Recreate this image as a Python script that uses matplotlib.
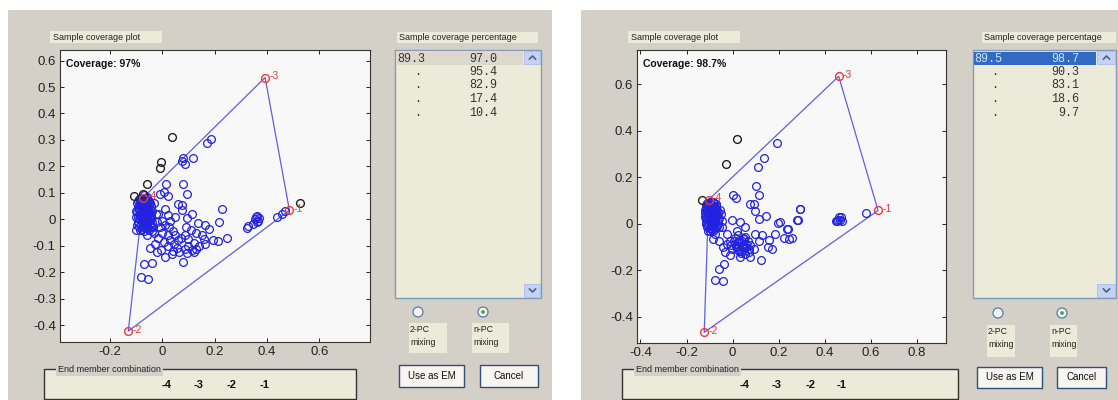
import matplotlib
matplotlib.use("Agg")
import matplotlib.pyplot as plt
from matplotlib.patches import Rectangle, Circle

W, H = 1118, 400

# ---------------- data : left window ----------------
left_blue_x = [0.170, 0.186, 0.080, 0.087, 0.119, 0.075, 0.014, 0.078, 0.093, -0.009, 0.023, 0.005,
               0.061, 0.074, 0.074, 0.227, 0.112, 0.093, 0.138, 0.163, 0.180, 0.218, 0.246, 0.214,
               0.195, 0.159, 0.163, 0.129, 0.112, 0.087, 0.078, 0.055, 0.036, 0.010, -0.022, -0.028,
               -0.047, -0.060, -0.040, -0.070, -0.041, -0.083, -0.054,
               0.322, 0.354, 0.361, 0.367, 0.346, 0.358, 0.370, 0.363, 0.329, 0.437, 0.457, 0.469,
               0.000, 0.010, 0.025, 0.040, 0.050, 0.020, 0.000, -0.010, 0.030, 0.045, 0.060, 0.070,
               0.085, 0.100, 0.100, 0.120, 0.140, 0.150, 0.130, 0.110, 0.090, 0.020, 0.005, -0.015,
               0.040, 0.065, 0.095, 0.120, -0.005, 0.030, 0.050, 0.010, -0.015, -0.020, 0.020,
               -0.095, -0.090, -0.085, -0.090, -0.095, -0.085, -0.080, -0.075, -0.070, -0.075, -0.070,
               -0.075, -0.065, -0.060, -0.055, -0.060, -0.055, -0.060, -0.050, -0.050, -0.045, -0.040,
               -0.045, -0.040, -0.035, -0.080, -0.068, -0.058, -0.082, -0.066, -0.052, -0.078, -0.062,
               -0.048, -0.088, -0.070, -0.100, -0.100, -0.092, -0.100, -0.070, -0.030, -0.025, -0.030,
               -0.065, -0.058, -0.073, -0.083, -0.062, -0.048,
               -0.092, -0.084, -0.076, -0.068, -0.060, -0.052, -0.094, -0.086, -0.078, -0.070, -0.062,
               -0.054, -0.046, -0.096, -0.088, -0.080, -0.072, -0.064, -0.056, -0.044, -0.094, -0.086,
               -0.078, -0.070, -0.064, -0.052, -0.042, -0.092, -0.082, -0.074, -0.066, -0.058, -0.050,
               -0.088, -0.078, -0.068, -0.058, -0.044, -0.080, -0.060]
left_blue_y = [0.290, 0.305, 0.233, 0.208, 0.233, 0.222, 0.132, 0.135, 0.097, 0.097, 0.088, 0.105,
               0.059, 0.054, 0.034, 0.040, 0.019, 0.004, -0.013, -0.021, -0.038, -0.009, -0.072, -0.084,
               -0.079, -0.076, -0.092, -0.113, -0.117, -0.113, -0.160, -0.107, -0.130, -0.142, -0.122, -0.095,
               -0.107, -0.059, -0.044, -0.170, -0.164, -0.218, -0.227,
               -0.032, 0.000, 0.013, -0.006, -0.016, 0.008, 0.005, -0.012, -0.025, 0.009, 0.021, 0.031,
               -0.005, -0.020, -0.030, -0.045, -0.060, -0.060, -0.050, -0.030, -0.080, -0.095, -0.080, -0.070,
               -0.060, -0.075, -0.100, -0.090, -0.100, -0.060, -0.050, -0.040, -0.030, -0.100, -0.085, -0.070,
               -0.120, -0.125, -0.128, -0.125, -0.115, -0.005, 0.010, 0.040, 0.020, -0.010, 0.015,
               0.060, 0.040, 0.020, 0.000, -0.020, -0.040, 0.070, 0.050, 0.030, 0.010, -0.010,
               -0.030, 0.080, 0.060, 0.040, 0.020, 0.000, -0.020, -0.040, 0.070, 0.050, 0.030,
               0.010, -0.010, -0.030, 0.055, 0.045, 0.032, 0.028, 0.012, 0.022, -0.005, -0.005,
               -0.020, 0.075, 0.090, 0.030, 0.010, -0.010, -0.040, -0.045, 0.060, 0.020, -0.050,
               0.065, 0.075, 0.020, 0.045, 0.052, 0.062,
               0.068, 0.064, 0.066, 0.070, 0.068, 0.058, 0.048, 0.052, 0.040, 0.054, 0.042,
               0.046, 0.040, 0.026, 0.034, 0.018, 0.036, 0.024, 0.030, 0.018, 0.008, 0.012,
               0.002, 0.016, 0.004, 0.008, 0.002, -0.012, -0.018, -0.014, -0.022, -0.012, -0.006,
               -0.030, -0.036, -0.030, -0.034, -0.028, 0.082, 0.086]
left_black_x = [0.036, -0.005, -0.009, -0.060, -0.107, -0.075, 0.526]
left_black_y = [0.311, 0.217, 0.195, 0.135, 0.088, 0.097, 0.061]
left_em_x = [0.486, -0.130, 0.393, -0.073]
left_em_y = [0.034, -0.423, 0.536, 0.082]
left_coverage = "Coverage: 97%"
left_first = "89.3"
left_pct = ["97.0", "95.4", "82.9", "17.4", "10.4"]

# ---------------- data : right window ----------------
right_blue_x = [0.193, 0.138, 0.109, 0.103, 0.117, 0.004, 0.016, 0.074, 0.091, 0.096, 0.117, 0.145,
                0.196, 0.207, 0.239, 0.283, 0.294, 0.258, 0.222, 0.186, 0.159, 0.128, 0.154, 0.123,
                0.077, 0.033, 0.026, -0.013, -0.043, -0.036, -0.061, -0.075, -0.042, 0.048, 0.077, 0.171,
                -0.003, 0.033, 0.055, 0.019, -0.025, -0.046, -0.061, -0.010, 0.012, 0.041, 0.055, 0.099,
                0.113, 0.091, 0.070, 0.055, -0.003, -0.032, -0.025, -0.075, -0.083, -0.097,
                0.460, 0.468, 0.455, 0.472, 0.462, 0.450, 0.475, 0.580, 0.291, 0.280, 0.236, 0.243,
                0.030, 0.040, 0.050, 0.035, 0.020, 0.045, 0.060, 0.025, 0.010, -0.005,
                -0.115, -0.110, -0.105, -0.110, -0.115, -0.100, -0.095, -0.090, -0.095, -0.090, -0.095,
                -0.085, -0.080, -0.075, -0.080, -0.075, -0.080, -0.070, -0.070, -0.065, -0.060, -0.065,
                -0.060, -0.055, -0.100, -0.088, -0.078, -0.102, -0.086, -0.072, -0.098, -0.082,
                -0.068, -0.108, -0.090, -0.118, -0.120, -0.112, -0.105, -0.085, -0.050, -0.045,
                -0.112, -0.104, -0.096, -0.088, -0.080, -0.072, -0.116, -0.108, -0.100, -0.092, -0.084,
                -0.076, -0.066, -0.118, -0.110, -0.102, -0.094, -0.086, -0.078, -0.068, -0.116, -0.108,
                -0.100, -0.092, -0.084, -0.076, -0.064, -0.114, -0.104, -0.096, -0.088, -0.078, -0.068,
                -0.110, -0.100, -0.090, -0.080,
                0.015, 0.028, 0.045, 0.058, 0.035, 0.065, 0.005, 0.020, 0.050, 0.070]
right_blue_y = [0.347, 0.284, 0.244, 0.162, 0.125, 0.125, 0.112, 0.083, 0.086, 0.054, 0.021, 0.032,
                0.003, 0.007, -0.021, 0.014, 0.064, -0.060, -0.060, -0.043, -0.069, -0.050, -0.100, -0.155,
                -0.143, -0.143, -0.115, -0.136, -0.100, -0.172, -0.193, -0.241, -0.244, -0.100, -0.093, -0.107,
                0.014, 0.007, -0.014, -0.029, -0.043, -0.014, -0.072, -0.072, -0.086, -0.072, -0.057, -0.043,
                -0.072, -0.107, -0.122, -0.129, -0.107, -0.122, -0.086, -0.043, -0.064, -0.029,
                0.017, 0.017, 0.012, 0.028, 0.030, 0.010, 0.012, 0.047, 0.064, 0.017, -0.021, -0.064,
                -0.080, -0.095, -0.110, -0.115, -0.100, -0.060, -0.085, -0.050, -0.060, -0.090,
                0.080, 0.060, 0.040, 0.020, 0.000, 0.090, 0.070, 0.050, 0.030, 0.010, -0.010,
                0.095, 0.075, 0.055, 0.035, 0.015, -0.005, 0.085, 0.065, 0.045, 0.025, 0.005,
                -0.015, 0.060, 0.065, 0.055, 0.042, 0.038, 0.022, 0.032, 0.012, 0.008,
                -0.008, 0.050, -0.025, 0.030, 0.060, -0.005, -0.030, -0.030, 0.040, 0.010,
                0.088, 0.082, 0.092, 0.080, 0.088, 0.078, 0.068, 0.072, 0.062, 0.068, 0.058,
                0.066, 0.058, 0.046, 0.052, 0.040, 0.048, 0.036, 0.044, 0.036, 0.026, 0.030,
                0.018, 0.026, 0.014, 0.022, 0.016, 0.006, 0.000, 0.006, -0.004, 0.002, -0.006,
                -0.016, -0.020, -0.024, -0.018,
                -0.095, -0.070, -0.085, -0.100, -0.125, -0.075, -0.075, -0.110, -0.065, -0.110]
right_black_x = [0.019, -0.028, -0.133]
right_black_y = [0.365, 0.258, 0.100]
right_em_x = [0.632, -0.123, 0.461, -0.104]
right_em_y = [0.057, -0.466, 0.633, 0.103]
right_coverage = "Coverage: 98.7%"
right_first = "89.5"
right_pct = ["98.7", "90.3", "83.1", "18.6", "9.7"]

em_labels = ["-1", "-2", "-3", "-4"]
hull_order = [3, 2, 0, 1, 3]
combination = ["-4", "-3", "-2", "-1"]

# ---------------- styling ----------------
plt.rcParams['font.family'] = ['Liberation Sans', 'DejaVu Sans']
GRAY = '#d4d0c8'
BEIGE = '#ecead8'
BLUE = '#2222e0'
RED = '#e83c3c'
LINE = '#5f5fe0'

fig = plt.figure(figsize=(W / 100, H / 100), dpi=100)
fig.patch.set_facecolor('white')
bg = fig.add_axes([0, 0, 1, 1], zorder=0)
bg.set_xlim(0, W)
bg.set_ylim(H, 0)
bg.axis('off')


def rect(x0, y0, x1, y1, fc, ec='none', lw=0.8, z=1):
    bg.add_patch(Rectangle((x0, y0), x1 - x0, y1 - y0, facecolor=fc, edgecolor=ec, lw=lw, zorder=z))


def px_axes(x0, y0, x1, y1):
    return fig.add_axes([x0 / W, 1 - y1 / H, (x1 - x0) / W, (y1 - y0) / H], zorder=2)


def panel(L):
    rect(*L['panel'], GRAY)
    rect(*L['ptitle'], BEIGE)
    bg.text(L['ptitle'][0] + 3, (L['ptitle'][1] + L['ptitle'][3]) / 2, 'Sample coverage plot',
            fontsize=6.5, va='center', ha='left', color='#222222', zorder=3)
    rect(*L['ltitle'], BEIGE)
    bg.text(L['ltitle'][0] + 2, (L['ltitle'][1] + L['ltitle'][3]) / 2, 'Sample coverage percentage',
            fontsize=6.5, va='center', ha='left', color='#222222', zorder=3)
    x0, y0, x1, y1 = L['list']
    rect(x0, y0, x1, y1, BEIGE, ec='#7f9db9', lw=1.0, z=2)
    sx = L['scroll']
    rect(sx, y0 + 1, x1 - 1, y0 + 14, '#c3d3f5', ec='#a8bce8', lw=0.6, z=3)
    rect(sx, y1 - 14, x1 - 1, y1 - 1, '#c3d3f5', ec='#a8bce8', lw=0.6, z=3)
    cx = (sx + x1) / 2
    bg.plot([cx - 3, cx, cx + 3], [y0 + 9, y0 + 6, y0 + 9], color='#4d6185', lw=1.2, zorder=4)
    bg.plot([cx - 3, cx, cx + 3], [y1 - 9, y1 - 6, y1 - 9], color='#4d6185', lw=1.2, zorder=4)
    rect(x0 + 1, y0 + 2, sx - 1, y0 + 15, L['selc'], z=3)
    rows_y = [y0 + 8.5 + 13.5 * i for i in range(len(L['pct']))]
    for i, (yy, val) in enumerate(zip(rows_y, L['pct'])):
        col = L['seltext'] if i == 0 else '#333333'
        first = L['first'] if i == 0 else '.'
        bx = L['c1'] if i == 0 else L['cdot']
        bg.text(bx, yy, first, family='Liberation Mono', fontsize=8.5, va='center', ha='left',
                color=col, zorder=4)
        bg.text(L['c2'], yy, val, family='Liberation Mono', fontsize=8.5, va='center', ha='right',
                color=col, zorder=4)
    for j, (rx, ry) in enumerate(L['radio']):
        bg.add_patch(Circle((rx, ry), 5, facecolor='#f4f4f4', edgecolor='#4a6ea8', lw=0.8, zorder=3))
        if j == 1:
            bg.add_patch(Circle((rx, ry), 1.8, facecolor='#3aa23a', edgecolor='none', zorder=4))
    for (bx0, by0, bx1, by1), t in zip(L['rlab'], ['2-PC\nmixing', 'n-PC\nmixing']):
        rect(bx0, by0, bx1, by1, BEIGE)
        bg.text(bx0 + 1, by0 + 2, t, fontsize=6.3, va='top', ha='left', color='#222222',
                linespacing=1.6, zorder=3)
    for (bx0, by0, bx1, by1), t in zip(L['buttons'], ['Use as EM', 'Cancel']):
        rect(bx0, by0, bx1, by1, '#f6f5f0', ec='#2f4f7f', lw=1.0, z=3)
        bg.text((bx0 + bx1) / 2, (by0 + by1) / 2, t, fontsize=7, va='center', ha='center',
                color='#111111', zorder=4)
    fx0, fy0, fx1, fy1 = L['frame']
    rect(fx0, fy0, fx1, fy1, BEIGE, ec='#333333', lw=1.0, z=2)
    bg.text(fx0 + 14, fy0, 'End member combination', fontsize=6.5, va='center', ha='left',
            color='#222222', zorder=4,
            bbox=dict(facecolor=GRAY, edgecolor='none', pad=1.5))
    for xx, t in zip(L['combx'], combination):
        bg.text(xx, 385, t, fontsize=8, va='center', ha='center', color='#111111',
                fontweight='bold', zorder=4)


def plot(L, bx, by, kx, ky, ex, ey, cov, xlim, ylim, xt, yt):
    ax = px_axes(*L['axes'])
    ax.set_facecolor('#f8f8f8')
    hx = [ex[i] for i in hull_order]
    hy = [ey[i] for i in hull_order]
    ax.plot(hx, hy, color=LINE, lw=0.9, zorder=2)
    ax.plot(bx, by, 'o', mfc='none', mec=BLUE, ms=5.6, mew=0.9, zorder=3)
    ax.plot(kx, ky, 'o', mfc='none', mec='#222222', ms=5.6, mew=1.0, zorder=3)
    ax.plot(ex, ey, 'o', mfc='none', mec=RED, ms=5.6, mew=1.0, zorder=4)
    for x, y, t in zip(ex, ey, em_labels):
        ax.annotate(t, (x, y), xytext=(3, 1), textcoords='offset points', color=RED,
                    fontsize=7.5, va='center', ha='left', zorder=5)
    ax.text(0.02, 0.97, cov, transform=ax.transAxes, fontsize=7.5, fontweight='bold',
            va='top', ha='left', color='#111111')
    ax.set_xlim(*xlim)
    ax.set_ylim(*ylim)
    ax.set_xticks(xt)
    ax.set_yticks(yt)
    ax.set_xticklabels(['0' if v == 0 else f'{v:g}' for v in xt])
    ax.set_yticklabels(['0' if v == 0 else f'{v:g}' for v in yt])
    ax.tick_params(direction='in', top=True, right=True, labelsize=9.5, length=3,
                   width=0.7, colors='#222222', pad=3)
    for s in ax.spines.values():
        s.set_color('#333333')
        s.set_linewidth(0.8)


LEFT = dict(panel=(8, 10, 552, 400), ptitle=(50, 31, 162, 43), axes=(60, 50, 370, 342),
            ltitle=(397, 32, 538, 43), list=(395, 50, 541, 298), scroll=524,
            selc='#dcd9cc', seltext='#333333', first=left_first, pct=left_pct,
            c1=397, cdot=414, c2=497, radio=[(418, 312), (483, 312)],
            rlab=[(409, 323, 447, 353), (472, 323, 509, 353)],
            buttons=[(399, 365, 464, 387), (480, 365, 538, 387)],
            frame=(44, 369, 356, 399), combx=[167, 199, 232, 265])
RIGHT = dict(panel=(581, 10, 1118, 400), ptitle=(628, 31, 740, 43), axes=(637, 50, 946, 343),
             ltitle=(982, 32, 1116, 43), list=(973, 50, 1116, 298), scroll=1097,
             selc='#316ac5', seltext='#d8e4ff', first=right_first, pct=right_pct,
             c1=974, cdot=991, c2=1079, radio=[(998, 313), (1062, 313)],
             rlab=[(987, 325, 1015, 357), (1050, 325, 1077, 357)],
             buttons=[(977, 367, 1042, 388), (1057, 367, 1106, 388)],
             frame=(622, 369, 958, 399), combx=[745, 777, 811, 842])

panel(LEFT)
panel(RIGHT)
plot(LEFT, left_blue_x, left_blue_y, left_black_x, left_black_y, left_em_x, left_em_y,
     left_coverage, (-0.391, 0.794), (-0.464, 0.64),
     [-0.2, 0, 0.2, 0.4, 0.6], [-0.4, -0.3, -0.2, -0.1, 0, 0.1, 0.2, 0.3, 0.4, 0.5, 0.6])
plot(RIGHT, right_blue_x, right_blue_y, right_black_x, right_black_y, right_em_x, right_em_y,
     right_coverage, (-0.415, 0.927), (-0.512, 0.746),
     [-0.4, -0.2, 0, 0.2, 0.4, 0.6, 0.8], [-0.4, -0.2, 0, 0.2, 0.4, 0.6])

fig.savefig('out.png', dpi=100, facecolor='white')
